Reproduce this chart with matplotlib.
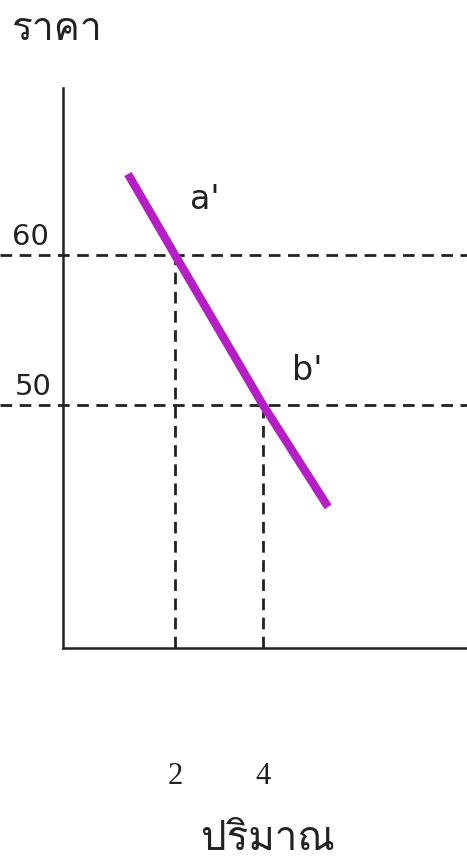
import matplotlib
matplotlib.use("Agg")
import matplotlib.pyplot as plt
from matplotlib import font_manager
from matplotlib.ft2font import FT2Font

# demand line points (quantity, price)
qty = [0.93, 2, 4, 5.48]
price = [65.4, 60, 50, 43.2]

# marked points
mark_q = [2, 4]
mark_p = [60, 50]
mark_names = ["a'", "b'"]

x_ticks = [2, 4]
y_ticks = [60, 50]
x_label = "ปริมาณ"
y_label = "ราคา"


def thai_family():
    # look for any installed font that can draw Thai
    for f in font_manager.fontManager.ttflist:
        try:
            if 0x0E23 in FT2Font(f.fname).get_charmap():
                return f.name
        except Exception:
            pass
    return "DejaVu Sans"


thai = thai_family()
plt.rcParams['font.family'] = [thai, 'DejaVu Sans']

fig = plt.figure(figsize=(4.67, 8.65), dpi=100)
ax = fig.add_axes([0, 0, 1, 1])

# pixel-matched limits
ax.set_xlim(-1.977, 8.636)
ax.set_ylim(19.33, 77.0)
x0, y0 = -0.545, 33.8

ax.spines['top'].set_visible(False)
ax.spines['right'].set_visible(False)
ax.spines['left'].set_position(('data', x0))
ax.spines['bottom'].set_position(('data', y0))
ax.spines['left'].set_bounds(y0, 71.1)
ax.spines['bottom'].set_bounds(x0, 8.636)
for s in ['left', 'bottom']:
    ax.spines[s].set_linewidth(1.8)
    ax.spines[s].set_color('#222222')
ax.set_xticks([])
ax.set_yticks([])

dash = dict(color='#222222', lw=2.0, linestyle=(0, (4.2, 2.7)))
for p in y_ticks:
    ax.plot([-1.977, 8.636], [p, p], **dash)
for q, p in zip(mark_q, mark_p):
    ax.plot([q, q], [y0, p], **dash)

ax.plot(qty, price, color='#B41EC4', lw=6, solid_capstyle='butt')

# point names sit up and to the right of each point
name_off = [(0.68, 3.7), (1.0, 2.3)]
for q, p, n, (dx, dy) in zip(mark_q, mark_p, mark_names, name_off):
    ax.text(q + dx, p + dy, n, fontsize=24, family=['DejaVu Sans'],
            ha='center', va='center', color='#222222')

for p in y_ticks:
    ax.text(x0 - 0.75 + (0.07 if p == 50 else 0), p + 1.2, str(p), fontsize=21,
            family=['DejaVu Sans'], ha='center', va='center', color='#222222')

for q in x_ticks:
    ax.text(q, 25.2, str(q), fontsize=22, family=['Liberation Serif'],
            ha='center', va='center', color='#222222')

ax.text(4.1, 21.0, x_label, fontsize=29, ha='center', va='center', color='#222222')
ax.text(-0.7, 75.0, y_label, fontsize=28, ha='center', va='center', color='#222222')

fig.savefig('out.png', dpi=100)
